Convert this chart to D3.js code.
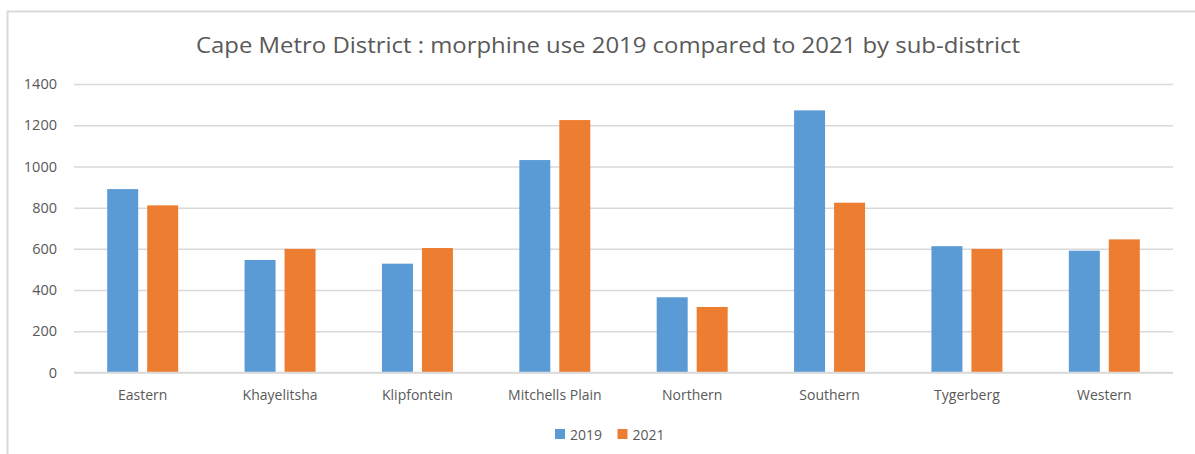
<!DOCTYPE html>
<html>
<head>
<meta charset="utf-8">
<script src="https://cdn.jsdelivr.net/npm/d3@7"></script>
<style>
  html, body { margin: 0; padding: 0; background: #ffffff; }
  svg { display: block; font-family: "Open Sans", "Noto Sans", sans-serif; }
</style>
</head>
<body>
<svg id="chart" width="1195" height="454"></svg>
<script>
// Sub-districts and morphine use per year
const categories = ["Eastern", "Khayelitsha", "Klipfontein", "Mitchells Plain", "Northern", "Southern", "Tygerberg", "Western"];
const seriesNames = ["2019", "2021"];
const values2019 = [890, 546, 528, 1031, 365, 1272, 613, 591];
const values2021 = [811, 600, 604, 1225, 318, 824, 600, 646];
const yTicks = [0, 200, 400, 600, 800, 1000, 1200, 1400];
const colors = ["#5b9bd5", "#ed7d31"];
const titleText = "Cape Metro District : morphine use 2019 compared to 2021 by sub-district";

const rows = categories.map((c, i) => ({ category: c, values: [values2019[i], values2021[i]] }));

const svg = d3.select("#chart");
const W = 1195, H = 454;
const plot = { left: 74, right: 1173, top: 84, bottom: 372.5 };
const labelFont = "'Open Sans', 'Noto Sans', sans-serif";

// Chart frame
svg.append("rect")
  .attr("x", 7.5).attr("y", 11.5)
  .attr("width", W + 10).attr("height", H + 10)
  .attr("fill", "#ffffff")
  .attr("stroke", "#d9d9d9").attr("stroke-width", 2);

// Title
svg.append("text")
  .attr("x", 608).attr("y", 53)
  .attr("text-anchor", "middle")
  .attr("fill", "#595959")
  .attr("font-size", 21)
  .attr("textLength", 824)
  .attr("lengthAdjust", "spacingAndGlyphs")
  .text(titleText);

const x = d3.scaleBand().domain(categories).range([plot.left, plot.right]).paddingInner(0).paddingOuter(0);
const xInner = d3.scaleBand().domain(seriesNames).range([0, x.bandwidth()]).paddingInner(0.225).paddingOuter(0.83);
const y = d3.scaleLinear().domain([0, 1400]).range([plot.bottom, plot.top]);

// Horizontal gridlines and value labels
const yAxis = d3.axisLeft(y).tickValues(yTicks).tickSize(-(plot.right - plot.left)).tickPadding(17).tickFormat(d3.format("d"));
const gy = svg.append("g").attr("transform", `translate(${plot.left},0)`).call(yAxis);
gy.select(".domain").remove();
gy.selectAll(".tick line").attr("stroke", "#d9d9d9").attr("stroke-width", 1.5);
gy.selectAll(".tick text").attr("fill", "#595959").attr("font-size", 14.5).attr("font-family", labelFont);

// Bars
const groups = svg.append("g").selectAll("g")
  .data(rows).join("g")
  .attr("transform", d => `translate(${x(d.category)},0)`);

groups.selectAll("rect")
  .data(d => d.values.map((v, j) => ({ key: seriesNames[j], value: v, j })))
  .join("rect")
  .attr("x", d => xInner(d.key))
  .attr("y", d => y(d.value))
  .attr("width", xInner.bandwidth())
  .attr("height", d => y(0) - y(d.value))
  .attr("fill", d => colors[d.j]);

// Baseline
svg.append("line")
  .attr("x1", plot.left).attr("x2", plot.right)
  .attr("y1", y(0)).attr("y2", y(0))
  .attr("stroke", "#d9d9d9").attr("stroke-width", 1.5);

// Category labels
const xAxis = d3.axisBottom(x).tickSize(0).tickPadding(18);
const gx = svg.append("g").attr("transform", `translate(0,${plot.bottom})`).call(xAxis);
gx.select(".domain").remove();
gx.selectAll(".tick text").attr("fill", "#595959").attr("font-size", 14).attr("font-family", labelFont);

// Legend
const legendX = [555, 617.5];
const legend = svg.append("g").selectAll("g")
  .data(seriesNames).join("g")
  .attr("transform", (d, i) => `translate(${legendX[i]},429)`);
legend.append("rect").attr("width", 10).attr("height", 10).attr("fill", (d, i) => colors[i]);
legend.append("text").attr("x", 15).attr("y", 10.5)
  .attr("fill", "#595959").attr("font-size", 14)
  .text(d => d);
</script>
</body>
</html>
